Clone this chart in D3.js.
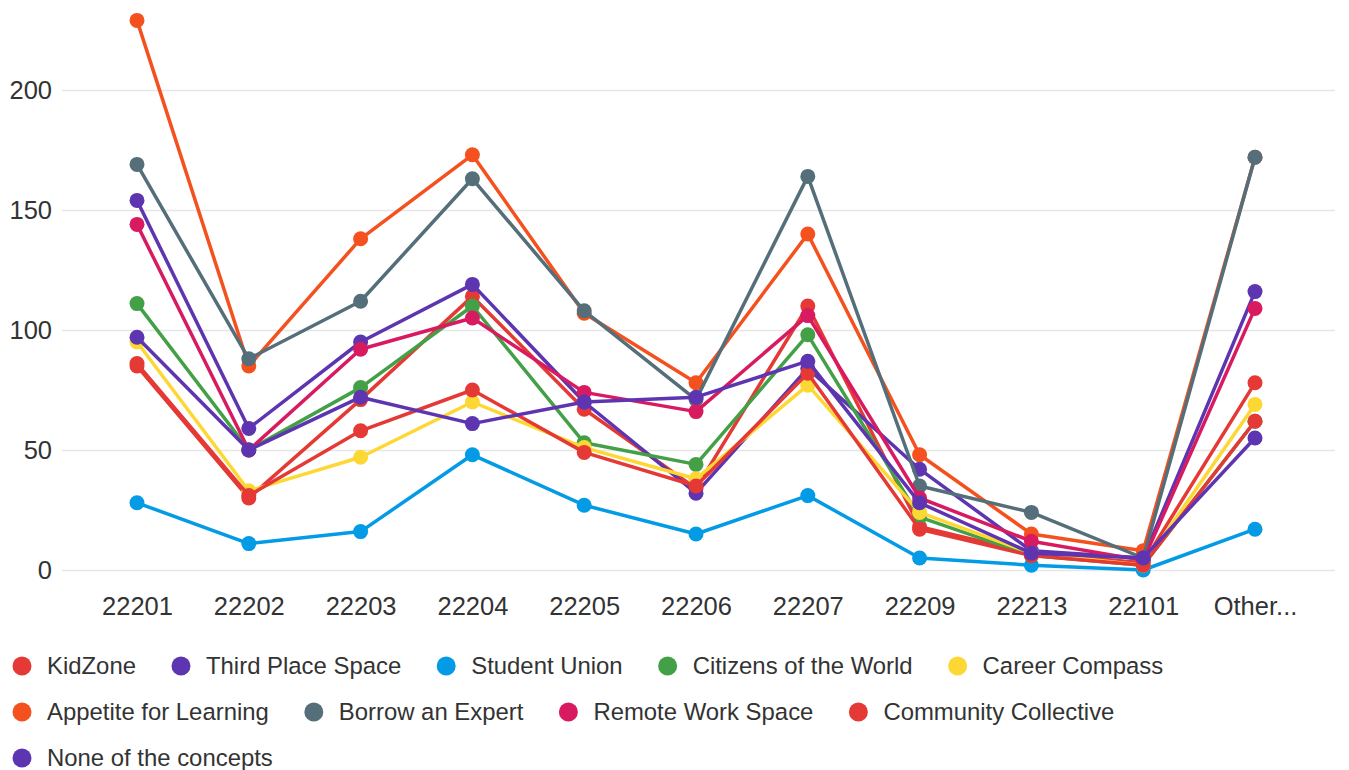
<!DOCTYPE html>
<html>
<head>
<meta charset="utf-8">
<script src="https://cdn.jsdelivr.net/npm/d3@7"></script>
<style>
  body { margin: 0; background: #fff; font-family: "Liberation Sans", Arial, sans-serif; }
  .axis text { fill: #333; font-size: 25.5px; }
  .axis path { display: none; }
  .y.axis line { stroke: #e6e6e6; stroke-width: 1.5; }
  .legend text { fill: #333; font-size: 23.9px; }
</style>
</head>
<body>
<script>
var categories = ["22201", "22202", "22203", "22204", "22205", "22206", "22207", "22209", "22213", "22101", "Other..."];
var yTicks = [0, 50, 100, 150, 200];

var seriesNames = ["KidZone", "Third Place Space", "Student Union", "Citizens of the World", "Career Compass",
  "Appetite for Learning", "Borrow an Expert", "Remote Work Space", "Community Collective", "None of the concepts"];
var seriesColors = ["#e53935", "#5e35b1", "#039be5", "#43a047", "#fdd835",
  "#f4511e", "#546e7a", "#d81b60", "#e53935", "#5e35b1"];

var kidZone        = [85, 30, 71, 114, 67, 34, 110, 18, 7, 3, 78];
var thirdPlace     = [154, 59, 95, 119, 70, 32, 84, 42, 8, 5, 116];
var studentUnion   = [28, 11, 16, 48, 27, 15, 31, 5, 2, 0, 17];
var citizens       = [111, 50, 76, 110, 53, 44, 98, 22, 6, 2, 62];
var careerCompass  = [95, 33, 47, 70, 51, 38, 77, 24, 7, 2, 69];
var appetite       = [229, 85, 138, 173, 107, 78, 140, 48, 15, 8, 172];
var borrowExpert   = [169, 88, 112, 163, 108, 71, 164, 35, 24, 5, 172];
var remoteWork     = [144, 50, 92, 105, 74, 66, 106, 30, 12, 4, 109];
var community      = [86, 31, 58, 75, 49, 35, 82, 17, 6, 2, 62];
var noneConcepts   = [97, 50, 72, 61, 70, 72, 87, 28, 7, 5, 55];

var seriesValues = [kidZone, thirdPlace, studentUnion, citizens, careerCompass,
  appetite, borrowExpert, remoteWork, community, noneConcepts];

var series = seriesNames.map(function(name, i) {
  return { name: name, color: seriesColors[i], values: seriesValues[i] };
});

var width = 1349, height = 770;
var gridLeft = 62, gridRight = 1335;

var svg = d3.select("body").append("svg")
  .attr("width", width)
  .attr("height", height);

var x = d3.scalePoint()
  .domain(categories)
  .range([137, 1255]);

var y = d3.scaleLinear()
  .domain([0, 200])
  .range([570, 90]);

// gridlines + y labels
svg.append("g")
  .attr("class", "y axis")
  .attr("transform", "translate(" + gridLeft + ",0)")
  .call(d3.axisLeft(y).tickValues(yTicks).tickSize(-(gridRight - gridLeft)).tickPadding(10).tickFormat(d3.format("d")));

svg.append("g")
  .attr("class", "x axis")
  .attr("transform", "translate(0," + y(0) + ")")
  .call(d3.axisBottom(x).tickSize(0).tickPadding(27));

var line = d3.line()
  .x(function(d, i) { return x(categories[i]); })
  .y(function(d) { return y(d); });

var groups = svg.selectAll(".series")
  .data(series)
  .enter().append("g")
  .attr("class", "series");

groups.append("path")
  .attr("d", function(d) { return line(d.values); })
  .attr("fill", "none")
  .attr("stroke", function(d) { return d.color; })
  .attr("stroke-width", 3.5)
  .attr("stroke-linejoin", "round");

groups.each(function(s) {
  d3.select(this).selectAll("circle")
    .data(s.values)
    .enter().append("circle")
    .attr("cx", function(d, i) { return x(categories[i]); })
    .attr("cy", function(d) { return y(d); })
    .attr("r", 7.5)
    .attr("fill", s.color);
});

// legend, flowing into rows
var legend = svg.append("g").attr("class", "legend");
var lx = 22, ly = 666, rowH = 46, maxX = 1340;
series.forEach(function(s) {
  var item = legend.append("g");
  item.append("circle")
    .attr("r", 9.5)
    .attr("fill", s.color);
  var t = item.append("text")
    .attr("x", 25)
    .attr("dy", "0.35em")
    .text(s.name);
  var w = t.node().getComputedTextLength();
  if (lx + 25 + w > maxX) { lx = 22; ly += rowH; }
  item.attr("transform", "translate(" + lx + "," + ly + ")");
  lx += 25 + w + 45;
});
</script>
</body>
</html>
